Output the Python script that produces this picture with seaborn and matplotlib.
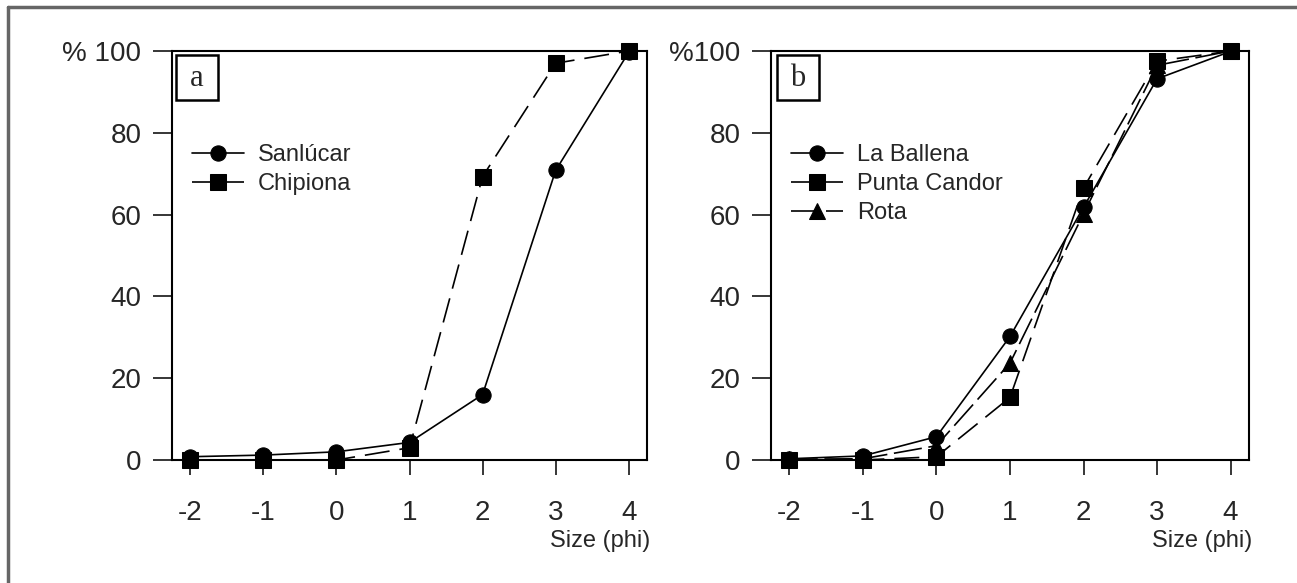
import matplotlib
matplotlib.use("Agg")
import matplotlib.pyplot as plt
import pandas as pd
import seaborn as sns
from matplotlib.lines import Line2D
from matplotlib.patches import Rectangle

# tamaños de grano (phi) y curvas acumuladas (%)
size_phi = [-2, -1, 0, 1, 2, 3, 4]

sanlucar = [0.8, 1.2, 2.0, 4.3, 16.0, 70.8, 99.7]
chipiona = [0.0, 0.0, 0.0, 3.0, 69.3, 97.0, 100.0]

la_ballena = [0.3, 1.0, 5.7, 30.2, 61.8, 93.2, 99.9]
punta_candor = [0.0, 0.0, 0.8, 15.3, 66.5, 97.5, 100.0]
rota = [0.2, 0.3, 3.5, 23.7, 60.2, 96.5, 100.0]

y_ticks = [0, 20, 40, 60, 80, 100]

sns.set_style("white")
plt.rcParams["font.family"] = ["Liberation Sans", "DejaVu Sans"]

W, H = 1297, 583
fig = plt.figure(figsize=(W / 100, H / 100), dpi=100)

# marco gris exterior
fig.add_artist(Line2D([8 / W, 1.0], [1 - 7 / H, 1 - 7 / H], color="#666666", lw=2.5))
fig.add_artist(Line2D([8 / W, 8 / W], [0, 1 - 7 / H], color="#666666", lw=2.5))

ax_a = fig.add_axes([172 / W, 1 - 460 / H, (647 - 172) / W, (460 - 51) / H])
ax_b = fig.add_axes([771 / W, 1 - 460 / H, (1249 - 771) / W, (460 - 51) / H])


def series_df(values):
    return pd.DataFrame({"phi": size_phi, "pct": values})


styles = {
    "solid": dict(linestyle="-"),
    "dash": dict(dashes=(15, 6)),
    "longdash": dict(dashes=(17, 4)),
}

panels = [
    (ax_a, "a", "% 100", 176, [("Sanlúcar", sanlucar, "o", "solid"),
                               ("Chipiona", chipiona, "s", "dash")]),
    (ax_b, "b", "%100", 777, [("La Ballena", la_ballena, "o", "solid"),
                              ("Punta Candor", punta_candor, "s", "dash"),
                              ("Rota", rota, "^", "longdash")]),
]

for ax, letter, top_lbl, box_x, series in panels:
    for name, vals, mk, ls in series:
        kw = dict(styles[ls])
        sns.lineplot(data=series_df(vals), x="phi", y="pct", ax=ax, color="black",
                     marker=mk, markersize=11 if mk != "^" else 12, markeredgecolor="black",
                     linewidth=1.2, label=name, **kw)

    ax.set_xlim(-2.25, 4.25)
    ax.set_ylim(0, 100)
    ax.set_xticks(size_phi)
    ax.set_xticklabels([str(v) for v in size_phi])
    ax.set_yticks(y_ticks)
    ax.set_yticklabels([str(v) for v in y_ticks[:-1]] + [top_lbl])
    ax.tick_params(axis="x", direction="out", length=11, width=1.3, pad=18,
                   labelsize=20, bottom=True)
    ax.tick_params(axis="y", direction="out", length=14, width=1.3, pad=8,
                   labelsize=20, left=True)
    for sp in ax.spines.values():
        sp.set_color("black")
        sp.set_linewidth(1.5)
    ax.set_xlabel("")
    ax.set_ylabel("")
    for ln in ax.lines:
        ln.set_clip_on(False)

    # recuadro con la letra del panel
    fig.add_artist(Rectangle((box_x / W, 1 - 100 / H), 42 / W, 45 / H,
                             transform=fig.transFigure, fc="white", ec="black", lw=1.8))
    fig.text((box_x + 21) / W, 1 - 79 / H, letter, ha="center", va="center",
             fontsize=22, family="Liberation Serif")

    ax.text(1.006, -0.198, "Size (phi)", transform=ax.transAxes, ha="right", va="center",
            fontsize=17)

    ax.legend(loc="upper left", bbox_to_anchor=(0.042, 0.772), frameon=False,
              fontsize=17, handlelength=2.2, handletextpad=0.6, labelspacing=0.3,
              borderpad=0, borderaxespad=0)

fig.savefig("out.png", dpi=100)
